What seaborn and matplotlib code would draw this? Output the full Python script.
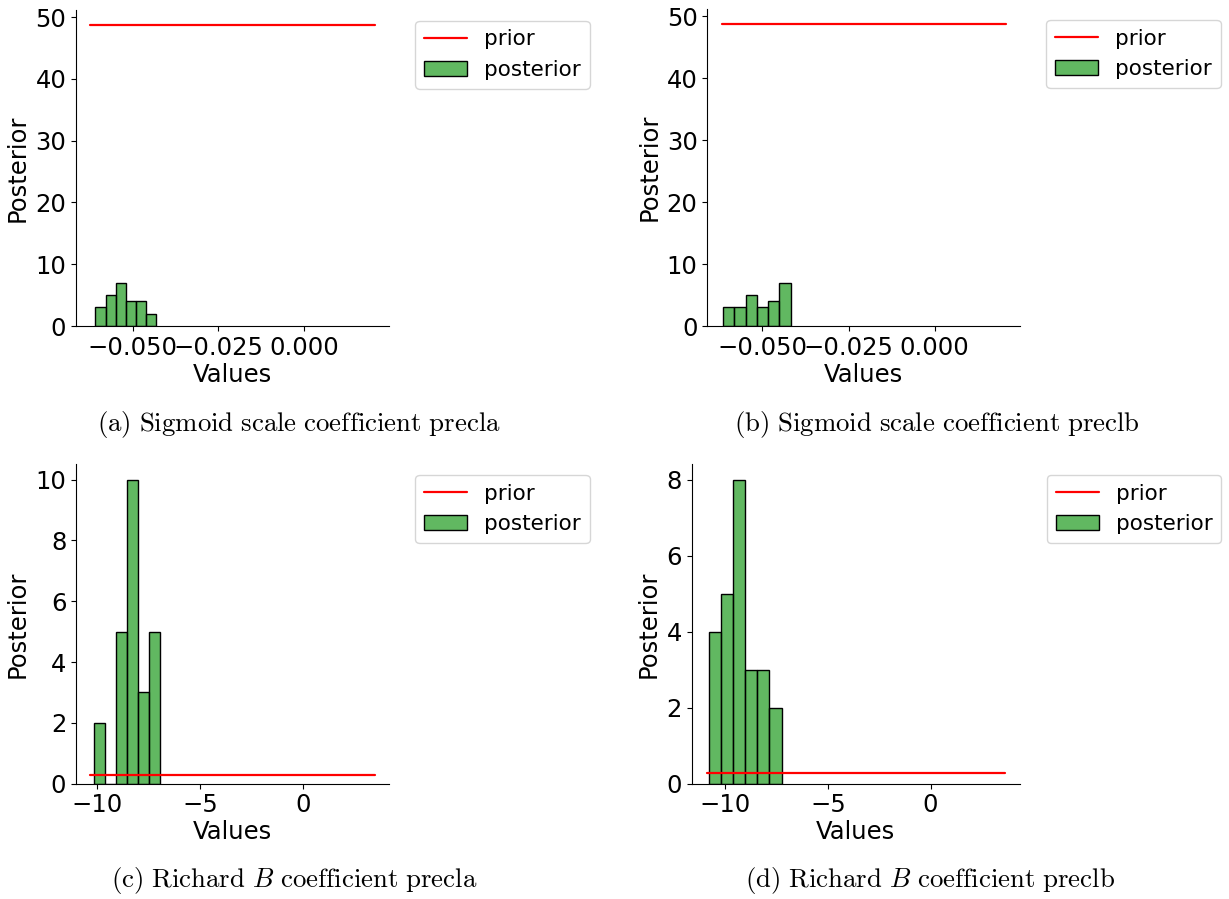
import numpy as np
import matplotlib
matplotlib.use("Agg")
import matplotlib.pyplot as plt
import seaborn as sns

# ---- data ----
# (a) Sigmoid scale coefficient precla
edges_a = [-0.0609, -0.0579, -0.0549, -0.0520, -0.0490, -0.0461, -0.0431]
counts_a = [3, 5, 7, 4, 4, 2]
prior_x_a = [-0.0624, 0.0207]
prior_y_a = 48.7

# (b) Sigmoid scale coefficient preclb
edges_b = [-0.0615, -0.0582, -0.0549, -0.0516, -0.0484, -0.0451, -0.0418]
counts_b = [3, 3, 5, 3, 4, 7]
prior_x_b = [-0.0619, 0.0207]
prior_y_b = 48.7

# (c) Richard B coefficient precla
edges_c = [-10.19, -9.65, -9.11, -8.57, -8.03, -7.48, -6.94]
counts_c = [2, 0, 5, 10, 3, 5]
prior_x_c = [-10.35, 3.47]
prior_y_c = 0.29

# (d) Richard B coefficient preclb
edges_d = [-10.775, -10.19, -9.60, -9.01, -8.43, -7.84, -7.253]
counts_d = [4, 5, 8, 3, 3, 2]
prior_x_d = [-10.90, 3.63]
prior_y_d = 0.28

captions = [
    r"$\mathrm{(a)\ Sigmoid\ scale\ coefficient\ precla}$",
    r"$\mathrm{(b)\ Sigmoid\ scale\ coefficient\ preclb}$",
    r"$\mathrm{(c)\ Richard\ }B\mathrm{\ coefficient\ precla}$",
    r"$\mathrm{(d)\ Richard\ }B\mathrm{\ coefficient\ preclb}$",
]

sns.set_style("ticks")
plt.rcParams["font.family"] = ["DejaVu Sans"]
plt.rcParams["mathtext.fontset"] = "cm"
for k in ["text.color", "axes.labelcolor", "xtick.color", "ytick.color", "axes.edgecolor"]:
    plt.rcParams[k] = "black"

fig = plt.figure(figsize=(12.29, 8.99), dpi=100)

W, H = 1229.0, 899.0
def rect(l, r, t, b):
    return [l / W, (H - b) / H, (r - l) / W, (b - t) / H]

axes_rects = [
    rect(76, 389, 10, 326),
    rect(707.3, 1020, 9.3, 326),
    rect(76, 389, 464.3, 783.7),
    rect(691.7, 1020, 464.3, 783.7),
]

panels = [
    (edges_a, counts_a, prior_x_a, prior_y_a),
    (edges_b, counts_b, prior_x_b, prior_y_b),
    (edges_c, counts_c, prior_x_c, prior_y_c),
    (edges_d, counts_d, prior_x_d, prior_y_d),
]

fs = 17.5
for rct, (edges, counts, px, py) in zip(axes_rects, panels):
    ax = fig.add_axes(rct)
    e = np.array(edges)
    centers = (e[:-1] + e[1:]) / 2
    sns.lineplot(x=px, y=[py, py], color="red", linewidth=1.6, label="prior", ax=ax)
    sns.histplot(x=centers, weights=counts, bins=edges, color="tab:green",
                 edgecolor="black", alpha=0.75, linewidth=1.0,
                 label="posterior", ax=ax)
    ax.set_xlabel("Values", fontsize=fs, labelpad=2)
    ax.set_ylabel("Posterior", fontsize=fs, labelpad=4)
    ax.tick_params(labelsize=fs)
    sns.despine(ax=ax)
    ax.legend(loc="upper left", bbox_to_anchor=(1.05, 1.0), fontsize=15.5,
              frameon=True)

cap_pos = [(299, 425), (937, 425), (294, 880), (930, 880)]
for (cx, cy), txt in zip(cap_pos, captions):
    fig.text(cx / W, 1 - cy / H, txt, ha="center", va="center", fontsize=19.3)

fig.savefig("out.png", dpi=100)
